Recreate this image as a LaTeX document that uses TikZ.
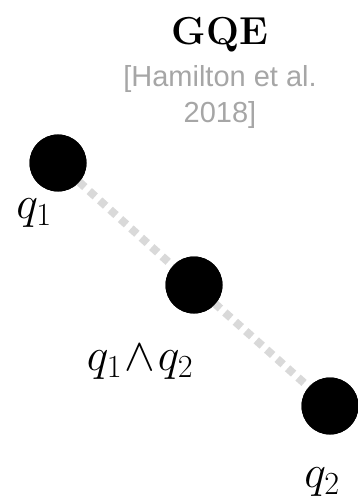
\documentclass[tikz,border=0pt]{standalone}
\usepackage{fix-cm}
\usepackage{amsmath}
\usepackage{fontspec}
\usepackage{tikz}
\usetikzlibrary{positioning}
\newfontfamily\citefont{Liberation Sans}
\definecolor{qdot}{RGB}{0,0,0}
\definecolor{qlink}{RGB}{217,217,217}
\definecolor{qcite}{RGB}{166,166,166}

\begin{document}
\begin{tikzpicture}[x=1bp, y=-1bp,
    qnode/.style={circle, fill=qdot, minimum size=57bp, inner sep=0pt},
    qlabel/.style={font=\fontsize{46bp}{50bp}\selectfont, inner sep=0pt},
    qpath/.style={qlink, line width=8bp, dash pattern=on 8bp off 6bp}]
  \useasboundingbox (0,0) rectangle (357,502);
  % Title and citation
  \node[font=\fontsize{39bp}{44bp}\selectfont\bfseries, anchor=base, inner sep=0pt] (title) at (220,45) {GQE};
  \node[font=\fontsize{29bp}{36bp}\selectfont\citefont, text=qcite, align=center, inner sep=0pt] (cite) at (220,97) {[Hamilton et al.\\2018]};
  % Query embeddings
  \node[qnode] (q1) at (58,163) {};
  \node[qnode] (q12) at (194,285) {};
  \node[qnode] (q2) at (330,406) {};
  % Dotted path between them
  \draw[qpath] (q1.center) -- (q12.center) -- (q2.center);
  \foreach \n in {q1,q12,q2} \fill[qdot] (\n) circle (28.5);
  % Labels
  \node[qlabel] (lq1) at (34,213) {$q_1$};
  \node[qlabel] (lq12) at (140,362) {$q_1\mskip1mu{\wedge}\mskip1mu q_2$};
  \node[qlabel] (lq2) at (322,482) {$q_2$};
\end{tikzpicture}
\end{document}
